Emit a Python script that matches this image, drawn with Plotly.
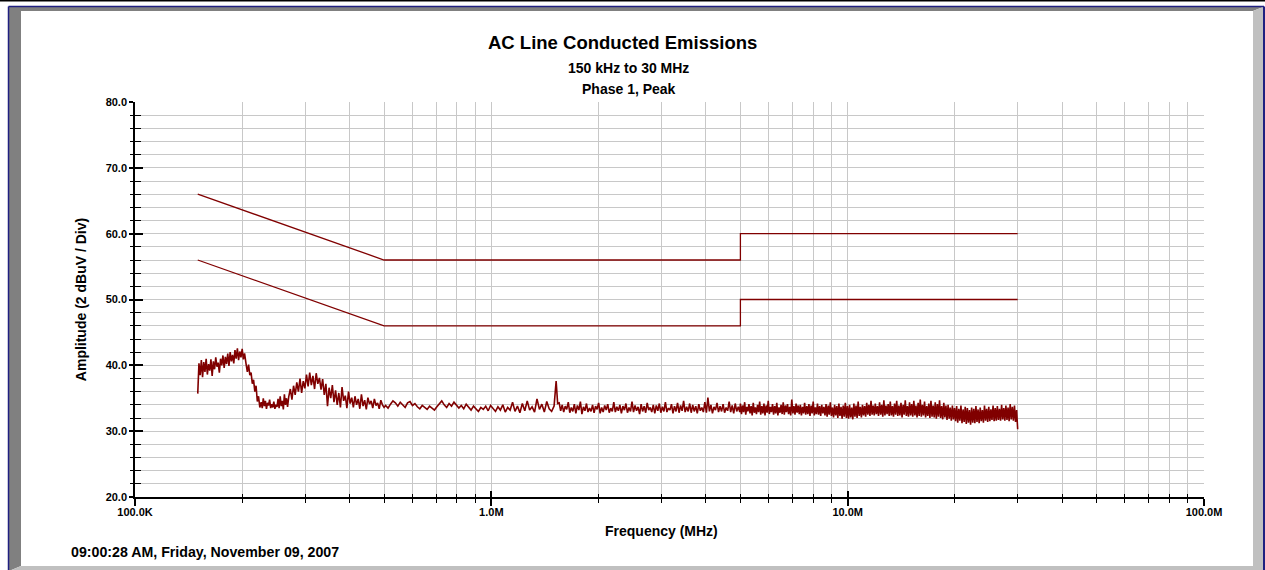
import numpy as np
import plotly.graph_objects as go

# ---------------- data ----------------
# limit lines (frequency in Hz, amplitude in dBuV)
limit_freq = [150e3, 500e3, 5e6, 5e6, 30e6]
limit_upper = [66, 56, 56, 60, 60]
limit_lower = [56, 46, 46, 50, 50]

seg_a_range = (150e3, 203e3)
seg_a = [35.7, 40.3, 38.5, 40.8, 38.2, 40.5, 39.0, 41.0, 38.6, 40.2, 39.2, 40.9, 38.4, 40.6, 39.4, 41.2, 39.8, 40.4, 38.9, 41.0,
         40.0, 41.5, 39.6, 41.3, 40.2, 41.8, 39.9, 42.0, 40.6, 41.6, 40.3, 42.3, 41.0, 42.6, 40.8, 42.1, 41.2, 42.5, 40.9, 41.8]
seg_b_range = (205e3, 224e3)
seg_b = [40.2, 39.0, 40.1, 38.5, 38.9, 37.2, 37.8, 36.0, 36.9, 34.5, 35.3, 33.6]
seg_c_range = (226e3, 268e3)
seg_c = [34.4, 33.5, 35.0, 33.8, 34.6, 33.4, 34.3, 33.9, 34.8, 33.5, 34.1, 33.6, 34.5, 33.4, 34.0, 33.7, 34.9, 33.5, 35.3, 33.8,
         34.6, 33.3, 35.6, 34.0, 35.0, 33.7]
seg_d_range = (270e3, 500e3)
seg_d = [35.2, 36.4, 34.8, 36.9, 35.5, 37.4, 36.0, 38.0, 35.8, 37.6, 36.5, 38.6, 36.8, 38.9, 37.0, 38.4, 36.4, 38.8, 37.2, 38.1,
         36.3, 37.9, 35.5, 37.2, 33.8, 36.6, 35.0, 37.0, 34.4, 36.2, 34.0, 35.8, 33.6, 36.7, 34.6, 35.4, 33.5, 36.0, 34.2, 35.1,
         33.6, 35.3, 34.0, 34.9, 33.4, 35.6, 33.8, 34.7, 33.3, 35.1, 34.1, 34.6, 33.5, 34.9, 33.9, 34.3, 33.4, 34.7, 34.0, 33.6]
seg_e_range = (505e3, 1.5e6)
seg_e = [33.9, 33.5, 34.1, 34.6, 34.3, 33.8, 34.4, 34.0, 33.6, 34.3, 34.5, 33.9, 34.2, 33.7, 33.4, 33.9, 33.6, 33.3, 33.8, 33.5,
         33.2, 33.7, 34.2, 34.6, 34.0, 33.6, 34.2, 33.8, 34.4, 34.0, 33.5, 33.9, 33.4, 34.1, 33.6, 33.2, 33.8, 33.4, 33.0, 33.6,
         33.3, 33.8, 33.1, 33.9, 33.4, 33.0, 33.7, 33.2, 34.0, 32.9, 33.6, 33.2, 34.4, 33.0, 33.8, 32.8, 34.2, 33.1, 34.6, 33.2,
         33.7, 32.9, 34.9, 33.3, 34.1, 32.9, 34.5, 33.4, 33.0, 33.8]
spike_freq = [1.52e6, 1.535e6]
spike_amp = [37.6, 34.2]
seg_f_range = (1.55e6, 4.98e6)
seg_f = [34.3, 33.1, 34.0, 32.9, 33.8, 33.3, 34.4, 32.8, 33.6, 33.0, 34.1, 32.7, 33.9, 33.2, 34.5, 32.6, 33.7, 33.1, 34.2, 32.9,
         33.5, 33.0, 34.0, 32.8, 33.8, 33.3, 34.3, 32.7, 33.6, 32.9, 33.9, 33.2, 34.1, 32.8, 33.5, 33.0, 34.4, 32.9, 33.7, 33.1,
         34.0, 32.7, 33.8, 33.2, 34.2, 32.8, 33.6, 33.0, 34.5, 32.9, 33.9, 33.1, 33.7, 32.6, 34.1, 33.0, 33.8, 32.8, 34.3, 33.2,
         33.6, 32.9, 34.0, 32.7, 33.9, 33.1, 34.2, 32.8, 33.7, 33.0, 34.4, 32.9, 33.5, 33.2, 34.1, 32.7, 33.8, 33.0, 34.3, 32.8,
         33.9, 33.1, 34.6, 32.9, 33.7, 33.0, 34.2, 32.8, 34.0, 33.0, 33.8, 32.7, 34.1, 33.1, 33.6, 32.9, 34.4, 32.8, 35.1, 33.0,
         34.0, 32.7, 33.7, 33.2, 34.3, 32.9, 33.8, 33.0, 34.1, 32.8, 33.6, 33.1, 34.5, 32.9, 33.9, 32.7, 34.2, 33.0, 33.7, 32.9]
seg_g_range = (5.0e6, 30e6)
seg_g = [34.2, 32.6, 33.9, 32.9, 34.4, 32.5, 33.7, 33.0, 34.1, 32.7, 33.8, 32.4, 34.3, 32.8, 33.6, 32.6, 34.0, 32.9, 34.5, 32.5,
         33.8, 32.7, 34.2, 32.4, 33.9, 32.8, 34.6, 32.6, 33.7, 32.9, 34.1, 32.5, 33.8, 32.7, 34.3, 32.4, 33.6, 32.8, 34.0, 32.6,
         34.4, 32.5, 33.9, 32.9, 34.1, 32.6, 33.7, 32.4, 34.8, 32.7, 33.8, 32.5, 34.2, 32.8, 33.9, 32.6, 34.0, 32.4, 33.7, 32.7,
         34.3, 32.5, 33.8, 32.6, 34.1, 32.3, 33.9, 32.7, 34.5, 32.4, 33.6, 32.6, 34.2, 32.5, 33.8, 32.3, 34.0, 32.7, 33.7, 32.4,
         34.1, 32.2, 33.9, 32.5, 34.4, 32.3, 33.6, 32.1, 34.0, 32.4, 33.8, 32.0, 34.2, 32.3, 33.7, 31.9, 33.9, 32.2, 34.3, 32.0,
         33.8, 31.9, 34.0, 32.1, 33.6, 31.8, 34.2, 32.2, 33.9, 32.0, 34.5, 32.3, 33.7, 32.1, 34.0, 32.4, 33.8, 32.2, 34.3, 32.5,
         34.0, 32.3, 34.6, 32.5, 33.9, 32.4, 34.2, 32.6, 33.8, 32.3, 34.4, 32.5, 34.0, 32.2, 34.7, 32.4, 33.9, 32.6, 34.1, 32.3,
         34.5, 32.4, 33.8, 32.2, 34.2, 32.5, 34.6, 32.3, 33.9, 32.4, 34.3, 32.1, 34.0, 32.5, 34.7, 32.3, 33.8, 32.2, 34.4, 32.4,
         34.1, 32.2, 34.6, 32.4, 33.9, 32.1, 34.3, 32.3, 34.8, 32.2, 34.0, 32.4, 34.5, 32.1, 33.8, 32.3, 34.2, 32.0, 34.6, 32.2,
         33.9, 32.1, 34.4, 31.9, 34.1, 32.2, 34.7, 32.0, 33.8, 31.8, 34.3, 32.1, 33.9, 31.7, 34.0, 31.9, 33.6, 31.6, 33.9, 31.8,
         33.5, 31.5, 33.8, 31.3, 33.4, 31.6, 33.9, 31.2, 33.3, 31.4, 33.7, 31.1, 33.5, 31.3, 33.2, 31.0, 33.6, 31.3, 33.4, 31.2,
         33.8, 31.4, 33.3, 31.2, 33.6, 31.5, 33.2, 31.3, 33.9, 31.6, 33.4, 31.4, 33.7, 31.5, 33.3, 31.7, 33.9, 31.5, 33.5, 31.6,
         33.8, 31.7, 33.4, 31.6, 34.0, 31.8, 33.5, 31.6, 33.9, 31.7, 33.6, 31.5, 34.1, 31.8, 33.7, 31.6, 33.9, 31.4, 33.2, 30.3]

x_tick_vals = [1e5, 1e6, 1e7, 1e8]
x_tick_text = ["100.0K", "1.0M", "10.0M", "100.0M"]
y_tick_vals = [20, 30, 40, 50, 60, 70, 80]
y_tick_text = ["20.0", "30.0", "40.0", "50.0", "60.0", "70.0", "80.0"]

title = "AC Line Conducted Emissions"
subtitle1 = "150 kHz to 30 MHz"
subtitle2 = "Phase 1, Peak"
x_title = "Frequency (MHz)"
y_title = "Amplitude (2 dBuV / Div)"
timestamp = "09:00:28 AM, Friday, November 09, 2007"

# ---------------- build trace arrays ----------------
freq_parts, amp_parts = [], []
for rng, vals in [(seg_a_range, seg_a), (seg_b_range, seg_b), (seg_c_range, seg_c),
                  (seg_d_range, seg_d), (seg_e_range, seg_e)]:
    freq_parts.append(np.geomspace(rng[0], rng[1], len(vals)))
    amp_parts.append(np.array(vals))
freq_parts.append(np.array(spike_freq)); amp_parts.append(np.array(spike_amp))
for rng, vals in [(seg_f_range, seg_f), (seg_g_range, seg_g)]:
    freq_parts.append(np.geomspace(rng[0], rng[1], len(vals)))
    amp_parts.append(np.array(vals))
freq = np.concatenate(freq_parts)
amp = np.concatenate(amp_parts)

minor_x = [m * 10 ** d for d in (5, 6, 7) for m in range(2, 10)]

W, H = 1265, 570
L, R, T, B = 135, 61, 102, 73
pw, ph = W - L - R, H - T - B


def px(x):
    return (x - L) / pw


def py(y):
    return (H - B - y) / ph


RED = "#800000"
GRID = "#c8c8c8"
FONT = "Liberation Sans, Arial, sans-serif"

fig = go.Figure()
fig.add_trace(go.Scatter(x=limit_freq, y=limit_upper, mode="lines",
                         line=dict(color=RED, width=1.3), hoverinfo="skip"))
fig.add_trace(go.Scatter(x=limit_freq, y=limit_lower, mode="lines",
                         line=dict(color=RED, width=1.3), hoverinfo="skip"))
fig.add_trace(go.Scatter(x=freq, y=amp, mode="lines",
                         line=dict(color=RED, width=1.6)))
# invisible trace so the overlay axes (inner tick marks) are drawn
fig.add_trace(go.Scatter(x=[1e5], y=[20], xaxis="x2", yaxis="y2", mode="markers",
                         marker=dict(opacity=0), hoverinfo="skip"))

# frame (bevelled border)
ox0, oy0, ox1, oy1 = 9, 7, 1263, 571
ix0, iy0, ix1, iy1 = 21, 11, 1253, 566


def path(pts):
    return "M " + " L ".join(f"{px(a)},{py(b)}" for a, b in pts) + " Z"


shapes = [
    dict(type="path", xref="paper", yref="paper", layer="below",
         path=path([(ox0, oy0), (ox1, oy0), (ix1, iy0), (ix0, iy0), (ix0, iy1), (ox0, oy1)]),
         fillcolor="#808080", line=dict(width=0)),
    dict(type="path", xref="paper", yref="paper", layer="below",
         path=path([(ox1, oy0), (ox1, oy1), (ox0, oy1), (ix0, iy1), (ix1, iy1), (ix1, iy0)]),
         fillcolor="#c0c0c0", line=dict(width=0)),
    dict(type="line", xref="paper", yref="paper", x0=px(8.5), x1=px(8.5), y0=py(6.5), y1=py(571),
         line=dict(color="#202080", width=1.5)),
    dict(type="line", xref="paper", yref="paper", x0=px(8.5), x1=px(1264), y0=py(6.5), y1=py(6.5),
         line=dict(color="#202080", width=1.5)),
    dict(type="line", xref="paper", yref="paper", x0=px(1264), x1=px(1264), y0=py(6.5), y1=py(571),
         line=dict(color="#202080", width=2)),
    dict(type="line", xref="paper", yref="paper", x0=px(0), x1=px(1265), y0=py(0.7), y1=py(0.7),
         line=dict(color="black", width=1.5)),
]

bold = dict(family=FONT, color="black", weight="bold")
annotations = [
    dict(text=title, x=px(622), y=py(42), xref="paper", yref="paper", showarrow=False,
         xanchor="center", yanchor="middle", font=dict(size=18.5, **bold)),
    dict(text=subtitle1, x=px(628), y=py(68), xref="paper", yref="paper", showarrow=False,
         xanchor="center", yanchor="middle", font=dict(size=14, **bold)),
    dict(text=subtitle2, x=px(629), y=py(89), xref="paper", yref="paper", showarrow=False,
         xanchor="center", yanchor="middle", font=dict(size=14, **bold)),
    dict(text=x_title, x=px(661), y=py(531), xref="paper", yref="paper", showarrow=False,
         xanchor="center", yanchor="middle", font=dict(size=14, **bold)),
    dict(text=timestamp, x=px(69), y=py(552), xref="paper", yref="paper", showarrow=False,
         xanchor="left", yanchor="middle", font=dict(size=14.2, **bold)),
]

fig.update_layout(
    width=W, height=H,
    margin=dict(l=L, r=R, t=T, b=B),
    paper_bgcolor="white", plot_bgcolor="white",
    showlegend=False,
    shapes=shapes, annotations=annotations,
    xaxis=dict(type="log", range=[5, 8], tickvals=x_tick_vals, ticktext=x_tick_text,
               ticks="outside", ticklen=7, tickwidth=1.5, tickcolor="black",
               ticklabelstandoff=-3,
               showline=True, linecolor="black", linewidth=1.5,
               showgrid=True, gridcolor=GRID, gridwidth=1.3, zeroline=False,
               tickfont=dict(size=11, **bold),
               minor=dict(tickvals=minor_x, ticks="outside", ticklen=4, tickwidth=1.3,
                          tickcolor="black", showgrid=True, gridcolor=GRID, gridwidth=1.3)),
    yaxis=dict(range=[20, 80], tickvals=y_tick_vals, ticktext=y_tick_text,
               ticks="outside", ticklen=4, tickwidth=1.5, tickcolor="black",
               showline=True, linecolor="black", linewidth=1.5,
               showgrid=True, gridcolor=GRID, gridwidth=1.3, zeroline=False,
               tickfont=dict(size=11, **bold),
               minor=dict(dtick=2, tick0=20, ticks="outside", ticklen=3, tickwidth=1.3,
                          tickcolor="black", showgrid=True, gridcolor=GRID, gridwidth=1.3),
               title=dict(text=y_title, font=dict(size=14, **bold), standoff=16)),
    xaxis2=dict(type="log", range=[5, 8], overlaying="x", anchor="y", side="bottom",
                tickvals=x_tick_vals, showticklabels=False,
                ticks="inside", ticklen=6, tickwidth=1.5, tickcolor="black",
                showgrid=False, zeroline=False, showline=False,
                minor=dict(tickvals=minor_x, ticks="inside", ticklen=3, tickwidth=1.3,
                           tickcolor="black", showgrid=False)),
    yaxis2=dict(range=[20, 80], overlaying="y", anchor="x", side="left",
                tickvals=y_tick_vals, showticklabels=False,
                ticks="inside", ticklen=8, tickwidth=1.5, tickcolor="black",
                showgrid=False, zeroline=False, showline=False,
                minor=dict(dtick=2, tick0=20, ticks="inside", ticklen=6, tickwidth=1.3,
                           tickcolor="black", showgrid=False)),
)

fig.write_html("out.html", config={"displayModeBar": False},
               post_script="document.body.style.margin='0';")
